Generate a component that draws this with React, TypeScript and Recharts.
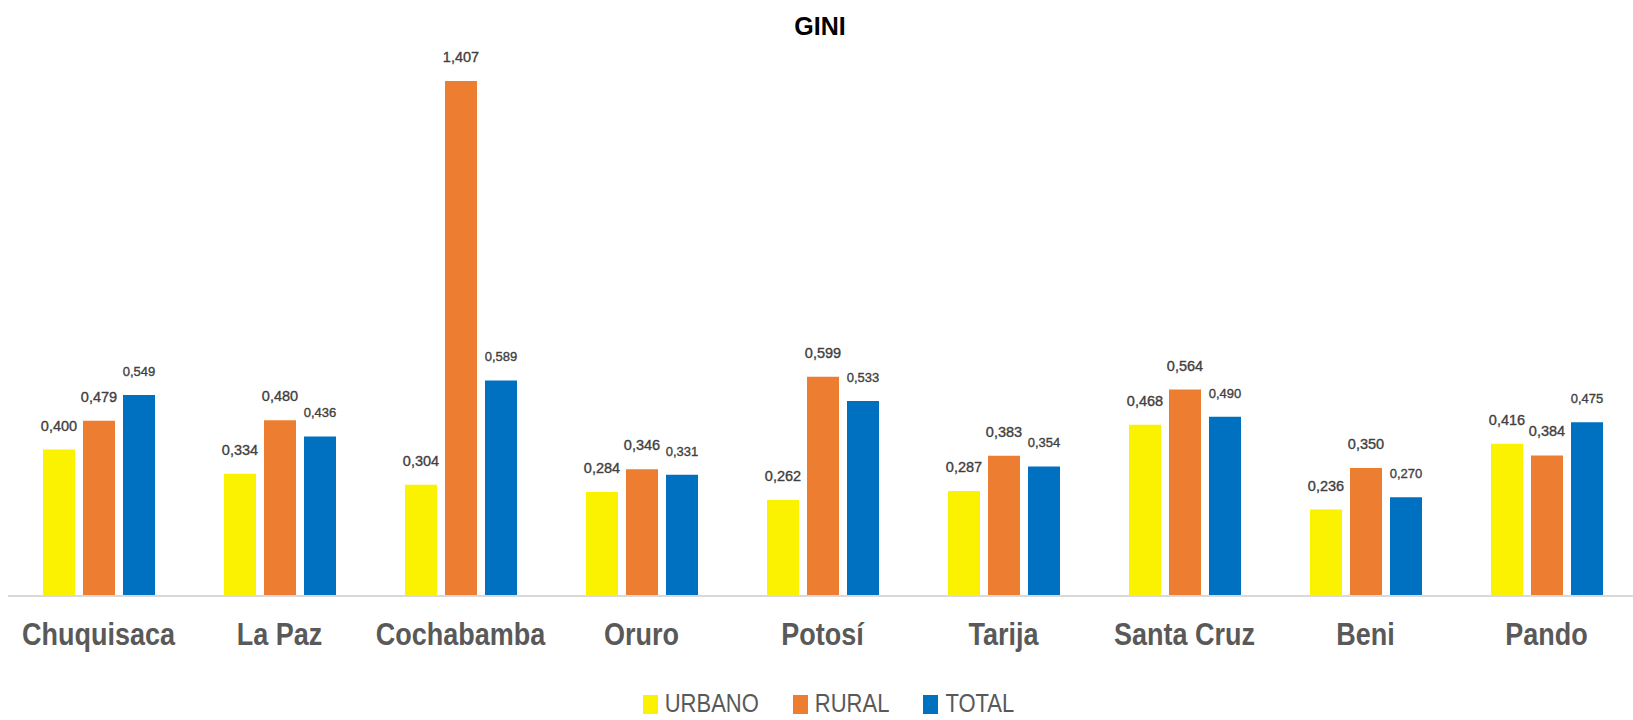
import React from "react";
import { BarChart, Bar, XAxis, YAxis, Legend, LabelList } from "recharts";

const categories = ["Chuquisaca", "La Paz", "Cochabamba", "Oruro", "Potosí", "Tarija", "Santa Cruz", "Beni", "Pando"];
const urbano = [0.4, 0.334, 0.304, 0.284, 0.262, 0.287, 0.468, 0.236, 0.416];
const rural = [0.479, 0.48, 1.407, 0.346, 0.599, 0.383, 0.564, 0.35, 0.384];
const total = [0.549, 0.436, 0.589, 0.331, 0.533, 0.354, 0.49, 0.27, 0.475];
const seriesNames = ["URBANO", "RURAL", "TOTAL"];
const seriesColors = ["#FAF200", "#ED7D31", "#0070C0"];

const data = categories.map((c, i) => ({ name: c, URBANO: urbano[i], RURAL: rural[i], TOTAL: total[i] }));

const FONT = "'Liberation Sans', Arial, sans-serif";
const fmt = (v: any) => Number(v).toFixed(3).replace(".", ",");

const CategoryTick = (props: any) => {
  const { x, y, payload } = props;
  return (
    <g transform={`translate(${x},${y + 49}) scale(1,1.18)`}>
      <text x={0} y={0} textAnchor="middle" fill="#595959" fontFamily={FONT} fontWeight="bold" fontSize={27}>
        {payload.value}
      </text>
    </g>
  );
};

const makeLabel = (size: number) => (props: any) => {
  const { x, y, width, value } = props;
  return (
    <text x={x + width / 2} y={y - 19} textAnchor="middle" fill="#404040" stroke="#404040" strokeWidth={0.35} fontFamily={FONT} fontSize={size}>
      {fmt(value)}
    </text>
  );
};

const LegendContent = () => (
  <div style={{ height: 40, position: "relative", display: "flex", justifyContent: "center", paddingLeft: 12, boxSizing: "border-box" }}>
    {seriesNames.map((n, i) => (
      <div key={n} style={{ display: "flex", alignItems: "center", marginRight: i < 2 ? 34 : 0, paddingTop: 14, height: 20 }}>
        <div style={{ width: 15, height: 19, background: seriesColors[i], marginRight: 7 }} />
        <div style={{ fontFamily: FONT, fontSize: 22, color: "#595959", lineHeight: "18px", transform: "scaleY(1.15)", transformOrigin: "50% 50%" }}>{n}</div>
      </div>
    ))}
  </div>
);

export default function App() {
  return (
    <div style={{ position: "relative", width: 1633, height: 720, overflow: "hidden", background: "#fff" }}>
      <style>{`body{margin:0;overflow:hidden;}`}</style>
      <div style={{ position: "absolute", left: 0, width: 1640, top: 12, textAlign: "center", fontFamily: FONT, fontWeight: "bold", fontSize: 25, color: "#000", lineHeight: "28px", zIndex: 2 }}>
        GINI
      </div>
      <BarChart width={1633} height={720} data={data} margin={{ top: 47, right: -4, left: 8, bottom: 0 }} barSize={32} barGap={8}>
        <XAxis dataKey="name" tick={<CategoryTick />} tickLine={false} tickSize={0} tickMargin={0} height={84} axisLine={{ stroke: "#D9D9D9", strokeWidth: 2 }} interval={0} />
        <YAxis hide domain={[0, 1.5]} />
        <Legend verticalAlign="bottom" height={40} content={<LegendContent />} />
        <Bar dataKey="URBANO" fill={seriesColors[0]} isAnimationActive={false}>
          <LabelList dataKey="URBANO" content={makeLabel(14.5)} />
        </Bar>
        <Bar dataKey="RURAL" fill={seriesColors[1]} isAnimationActive={false}>
          <LabelList dataKey="RURAL" content={makeLabel(14.5)} />
        </Bar>
        <Bar dataKey="TOTAL" fill={seriesColors[2]} isAnimationActive={false}>
          <LabelList dataKey="TOTAL" content={makeLabel(13)} />
        </Bar>
      </BarChart>
    </div>
  );
}
